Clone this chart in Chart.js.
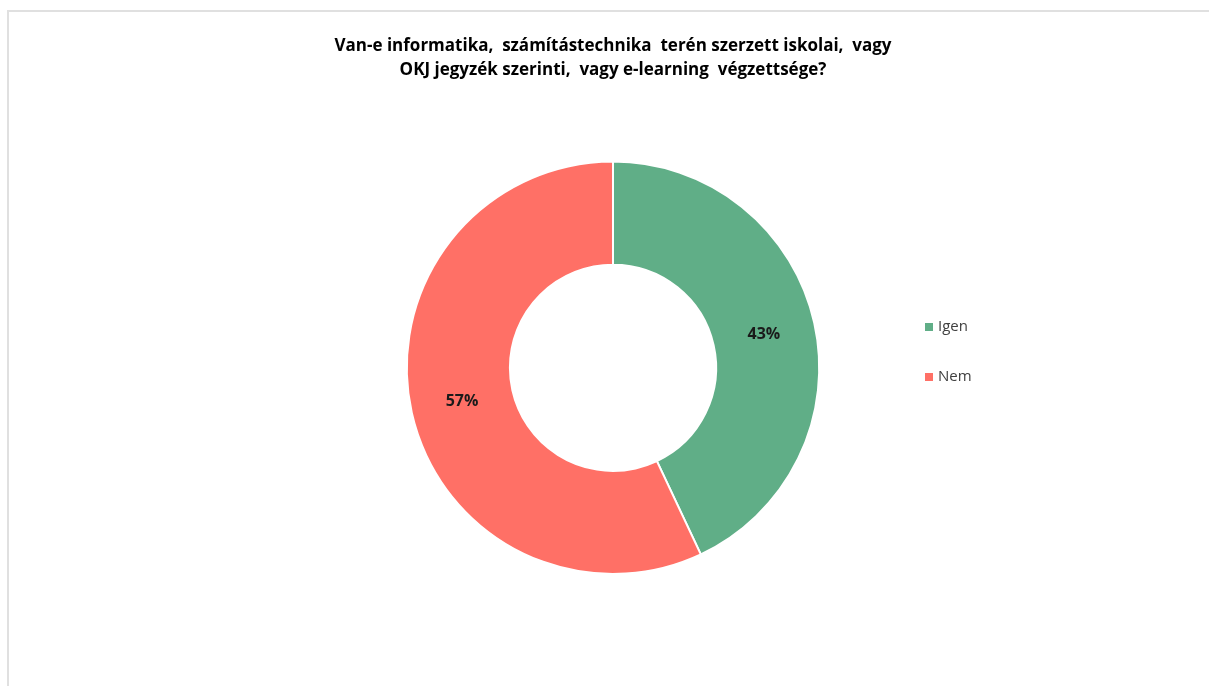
<!DOCTYPE html>
<html>
<head>
<meta charset="utf-8">
<script src="https://cdn.jsdelivr.net/npm/chart.js@4.4.0/dist/chart.umd.min.js"></script>
<style>
  html, body { margin: 0; padding: 0; background: #fff; overflow: hidden; }
  .frame { position: absolute; left: 7px; top: 10px; width: 1400px; height: 900px; border: 2px solid #e0e0e0; }
  .wrap { position: absolute; left: 0; top: 0; width: 1209px; height: 686px; }
</style>
</head>
<body>
<div class="frame"></div>
<div class="wrap"><canvas class="pie-chart"></canvas></div>
<script>
const titleLines = [
  'Van-e informatika,  számítástechnika  terén szerzett iskolai,  vagy',
  'OKJ jegyzék szerinti,  vagy e-learning  végzettsége?'
];
const labels = ['Igen', 'Nem'];
const values = [43, 57];
const colors = ['#60ae87', '#ff7066'];

const fontName = "'Open Sans', 'Liberation Sans', sans-serif";

// percentages on the slices
const sliceLabels = {
  id: 'sliceLabels',
  afterDatasetsDraw(chart) {
    const ctx = chart.ctx;
    const meta = chart.getDatasetMeta(0);
    const total = values.reduce((a, b) => a + b, 0);
    ctx.save();
    ctx.font = 'bold 16px ' + fontName;
    ctx.fillStyle = '#1a1a1a';
    ctx.textAlign = 'center';
    ctx.textBaseline = 'middle';
    meta.data.forEach((arc, i) => {
      const pos = arc.tooltipPosition();
      ctx.fillText(Math.round(values[i] / total * 100) + '%', pos.x, pos.y);
    });
    ctx.restore();
  }
};

// legend on the right, drawn by hand so the doughnut keeps its place
const sideLegend = {
  id: 'sideLegend',
  afterDraw(chart) {
    const ctx = chart.ctx;
    ctx.save();
    ctx.font = '15px ' + fontName;
    ctx.textBaseline = 'middle';
    chart.data.labels.forEach((lab, i) => {
      const y = 327 + i * 50;
      ctx.fillStyle = chart.data.datasets[0].backgroundColor[i];
      ctx.fillRect(925, y - 4, 8, 8);
      ctx.fillStyle = '#404040';
      ctx.fillText(lab, 938, y);
    });
    ctx.restore();
  }
};

const chart = document.querySelector('.pie-chart');
new Chart(chart, {
  type: 'doughnut',
  data: {
    labels: labels,
    datasets: [{
      data: values,
      backgroundColor: colors,
      borderColor: '#ffffff',
      borderWidth: 2
    }]
  },
  options: {
    responsive: true,
    maintainAspectRatio: false,
    animation: false,
    cutout: '50%',
    layout: {
      padding: { left: 17, right: 0, top: 0, bottom: 111 }
    },
    plugins: {
      legend: { display: false },
      tooltip: { enabled: false },
      title: {
        display: true,
        text: titleLines,
        color: '#000000',
        font: { family: fontName, size: 17, weight: 'bold', lineHeight: 1.4 },
        padding: { top: 34, bottom: 79 }
      }
    }
  },
  plugins: [sliceLabels, sideLegend]
});
</script>
</body>
</html>
